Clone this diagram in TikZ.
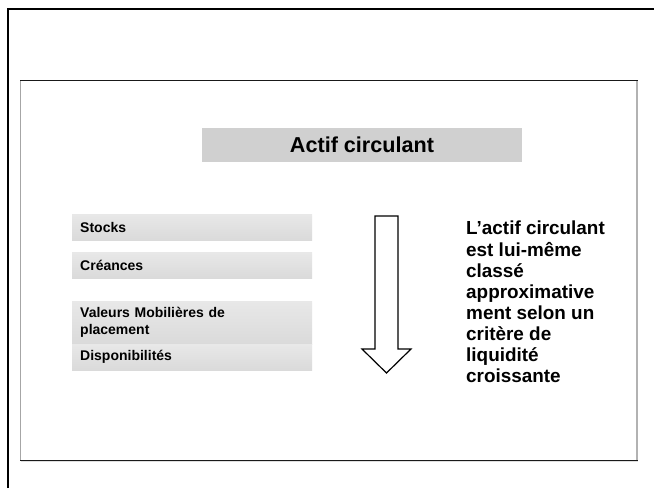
\documentclass[tikz,border=0pt]{standalone}
\usepackage{fontspec}
\setmainfont{Liberation Sans}
\definecolor{titlegray}{HTML}{D0D0D0}
\definecolor{itemtop}{HTML}{E8E8E8}
\definecolor{itembottom}{HTML}{DADADA}
\begin{document}
\begin{tikzpicture}
        [x=1pt, y=-1pt,
        titlebox/.style={fill=titlegray, minimum width=320pt, minimum height=34pt, inner sep=0pt, font=\fontsize{21.6}{26}\selectfont\bfseries},
        itembox/.style={anchor=north west, top color=itemtop, bottom color=itembottom, minimum height=26pt, text width=224pt, inner xsep=8pt, inner ysep=0pt, align=left, font=\fontsize{14}{17}\selectfont\bfseries},
        notetext/.style={anchor=north west, inner sep=0pt, align=left, font=\fontsize{18.9}{21.1}\selectfont\bfseries}]
        \useasboundingbox (0,0) rectangle (654,488);
        \fill[white] (0,0) rectangle (654,488);
        % outer frame and inner panel
        \draw[line width=2pt] (8,488) -- (8,9) -- (654,9);
        \draw[gray!70, line width=1pt] (20,80) -- (20,460);
        \draw[gray!60, line width=2pt] (637,80) -- (637,460);
        \draw[black!90, line width=1pt] (20,80) -- (638,80);
        \draw[black!90, line width=1pt] (20,460) -- (638,460);
        \draw[gray!25, line width=1pt] (21,461.5) -- (638,461.5);

        \node[titlebox] (T) at (362,145) {Actif circulant};

        \node[itembox] (S) at (72,214) {Stocks};
        \node[itembox] (C) at (72,252) {Créances};
        \node[itembox, minimum height=43pt] (V) at (72,301) {Valeurs Mobilières de\\placement};
        \node[itembox] (D) at (72,344) {Disponibilités};

        \draw[line width=1.2pt, fill=white] (375,216) -- (398,216) -- (398,349) -- (411,349) -- (386.5,373) -- (362,349) -- (375,349) -- cycle;

        \node[notetext] (N) at (466,221) {L’actif circulant\\est lui-même\\classé\\approximative\\ment selon un\\critère de\\liquidité\\croissante};
    \end{tikzpicture}
\end{document}
